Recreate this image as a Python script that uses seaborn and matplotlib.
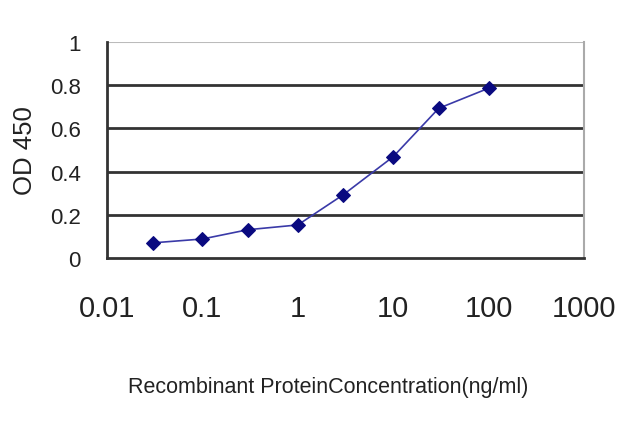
import seaborn as sns
import matplotlib.pyplot as plt
import pandas as pd

# concentration (ng/ml) and OD 450 readings
concentration = [0.03, 0.1, 0.3, 1, 3, 10, 30, 100]
od450 = [0.07, 0.088, 0.131, 0.153, 0.293, 0.469, 0.693, 0.786]
x_ticks = [0.01, 0.1, 1, 10, 100, 1000]
x_tick_labels = ["0.01", "0.1", "1", "10", "100", "1000"]
y_ticks = [0, 0.2, 0.4, 0.6, 0.8, 1]
y_tick_labels = ["0", "0.2", "0.4", "0.6", "0.8", "1"]

sns.set_style("white")
plt.rcParams['font.family'] = ['Liberation Sans', 'DejaVu Sans']

df = pd.DataFrame({"conc": concentration, "od": od450})

fig = plt.figure(figsize=(6.4, 4.27), dpi=100)
ax = fig.add_axes([107 / 640, 1 - 259 / 427, (584 - 107) / 640, (259 - 43) / 427])

# horizontal grid lines like the excel chart
for yv in y_ticks[1:-1]:
    ax.axhline(yv, color="#333333", lw=2, zorder=1)
ax.axhline(1, color="#bbbbbb", lw=1.5, zorder=1)

sns.lineplot(data=df, x="conc", y="od", ax=ax, color="#3a3aa8", lw=1.2,
             marker="D", markersize=7, markerfacecolor="#0a0a80",
             markeredgecolor="#0a0a80", zorder=3)

ax.set_xscale("log")
ax.set_xlim(0.01, 1000)
ax.set_ylim(0, 1)
ax.set_xticks(x_ticks)
ax.set_xticklabels(x_tick_labels, fontsize=21, color="#222222")
ax.set_yticks(y_ticks)
ax.set_yticklabels(y_tick_labels, fontsize=16, color="#222222")
ax.minorticks_off()
ax.tick_params(axis="x", direction="in", length=6, width=1.2, pad=26, color="#333333")
ax.tick_params(axis="y", direction="in", length=5, width=1.2, pad=19, color="#333333")

for side in ["left", "bottom"]:
    ax.spines[side].set_color("#333333")
    ax.spines[side].set_linewidth(2)
ax.spines["top"].set_visible(False)
ax.spines["right"].set_color("#aaaaaa")
ax.spines["right"].set_linewidth(1.5)

ax.set_xlabel("Recombinant ProteinConcentration(ng/ml)", fontsize=15.5,
              color="#222222")
ax.xaxis.set_label_coords(0.463, -0.545)
ax.set_ylabel("OD 450", fontsize=18.5, color="#222222", labelpad=9)

fig.savefig("out.png", dpi=100)
